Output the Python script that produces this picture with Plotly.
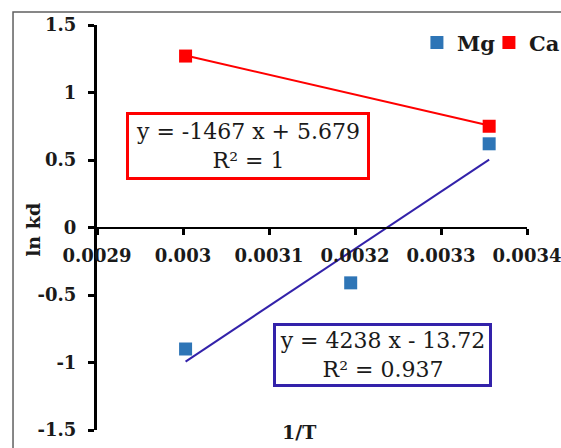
import plotly.graph_objects as go

# 1/T values (K^-1) and ln kd for each ion
inv_t_mg = [0.003003, 0.003195, 0.003356]
ln_kd_mg = [-0.90, -0.41, 0.62]
inv_t_ca = [0.003003, 0.003356]
ln_kd_ca = [1.27, 0.75]

# linear fits, as printed on the chart
fit_mg = {"slope": 4238, "intercept": -13.72, "r2": "0.937"}
fit_ca = {"slope": -1467, "intercept": 5.679, "r2": "1"}

x_ticks = [0.0029, 0.0030, 0.0031, 0.0032, 0.0033, 0.0034]
x_ticktext = ["0.0029", "0.003", "0.0031", "0.0032", "0.0033", "0.0034"]
y_ticks = [-1.5, -1.0, -0.5, 0.0, 0.5, 1.0, 1.5]
y_ticktext = ["-1.5", "-1", "-0.5", "0", "0.5", "1", "1.5"]

MG_COLOR = "#2E75B6"
MG_FIT_COLOR = "#3322AA"
CA_COLOR = "#FF0000"
SERIF = "DejaVu Serif"
INK = "#1a1a1a"


def fit_line(fit, xs):
    x0, x1 = min(xs), max(xs)
    return [x0, x1], [fit["slope"] * x0 + fit["intercept"], fit["slope"] * x1 + fit["intercept"]]


fig = go.Figure()

fx, fy = fit_line(fit_mg, inv_t_mg)
fig.add_trace(go.Scatter(x=fx, y=fy, mode="lines", line=dict(color=MG_FIT_COLOR, width=2),
                         showlegend=False, hoverinfo="skip"))
fx, fy = fit_line(fit_ca, inv_t_ca)
fig.add_trace(go.Scatter(x=fx, y=fy, mode="lines", line=dict(color=CA_COLOR, width=2),
                         showlegend=False, hoverinfo="skip"))

fig.add_trace(go.Scatter(x=inv_t_mg, y=ln_kd_mg, mode="markers", name="Mg",
                         marker=dict(symbol="square", size=13, color=MG_COLOR)))
fig.add_trace(go.Scatter(x=inv_t_ca, y=ln_kd_ca, mode="markers", name="Ca",
                         marker=dict(symbol="square", size=13, color=CA_COLOR)))


def fmt_eq(fit):
    b = fit["intercept"]
    sign = "+" if b >= 0 else "-"
    return f"y = {fit['slope']} x {sign} {abs(b):g}<br>R² = {fit['r2']}"


fig.add_annotation(text=fmt_eq(fit_ca), xref="paper", yref="paper", x=0.0674, y=0.785,
                   xanchor="left", yanchor="top", showarrow=False, align="center",
                   width=234, height=58, bordercolor=CA_COLOR, borderwidth=3, borderpad=2,
                   font=dict(family=SERIF, size=22, color=INK))
fig.add_annotation(text=fmt_eq(fit_mg), xref="paper", yref="paper", x=0.4093, y=0.2642,
                   xanchor="left", yanchor="top", showarrow=False, align="center",
                   width=209, height=54, bordercolor=MG_FIT_COLOR, borderwidth=3, borderpad=2,
                   font=dict(family=SERIF, size=22, color=INK))

# axis titles
fig.add_annotation(text="ln kd", xref="paper", yref="paper", x=-0.149, y=0.494,
                   textangle=-90, showarrow=False, xanchor="center", yanchor="middle",
                   font=dict(family=SERIF, size=19, color=INK, weight="bold"))
fig.add_annotation(text="1/T", xref="paper", yref="paper", x=0.47, y=-0.005,
                   showarrow=False, xanchor="center", yanchor="middle",
                   font=dict(family=SERIF, size=19, color=INK, weight="bold"))

# outer chart frame
fig.add_shape(type="rect", xref="paper", yref="paper", x0=-0.1953, x1=1.3, y0=-0.2, y1=1.032,
              line=dict(color="#606060", width=1.5), fillcolor="rgba(0,0,0,0)", layer="below")

fig.update_layout(
    width=561, height=448,
    margin=dict(l=97, r=34, t=25, b=18, autoexpand=False),
    paper_bgcolor="white", plot_bgcolor="white",
    showlegend=True,
    legend=dict(orientation="h", x=0.744, y=0.956, xanchor="left", yanchor="middle",
                font=dict(family=SERIF, size=21, color=INK, weight="bold"),
                bgcolor="rgba(0,0,0,0)", itemwidth=30, tracegroupgap=0,
                entrywidth=27, entrywidthmode="pixels"),
    xaxis=dict(range=[0.0029, 0.0034], tickvals=x_ticks, ticktext=x_ticktext,
               anchor="free", position=0.5, showgrid=False, zeroline=False,
               automargin=False, ticklabeloverflow="allow",
               showline=True, linecolor="black", linewidth=2,
               ticks="outside", ticklen=6, tickwidth=3, tickcolor="black",
               ticklabelstandoff=6,
               tickfont=dict(family=SERIF, size=18, color=INK, weight="bold")),
    yaxis=dict(range=[-1.5, 1.5], tickvals=y_ticks, ticktext=y_ticktext,
               showgrid=False, zeroline=False, automargin=False,
               ticklabeloverflow="allow",
               showline=True, linecolor="black", linewidth=3,
               ticks="outside", ticklen=6, tickwidth=3, tickcolor="black",
               ticklabelstandoff=8,
               tickfont=dict(family=SERIF, size=18, color=INK, weight="bold")),
)

fig.write_html("out.html")
